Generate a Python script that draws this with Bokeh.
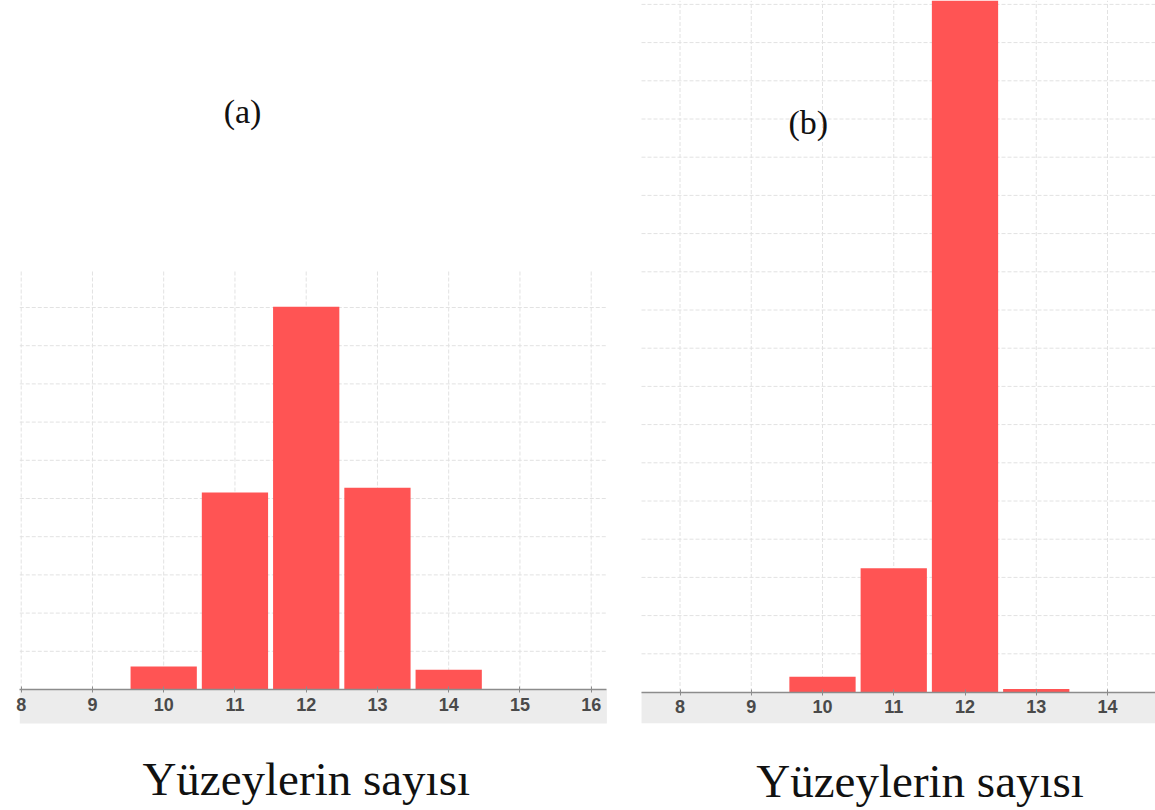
from bokeh.plotting import figure
from bokeh.models import LinearAxis, FixedTicker, Label, Range1d
from bokeh.layouts import row
from bokeh.embed import file_html
from bokeh.resources import INLINE

# ---------------- data ----------------
faces_a = [10, 11, 12, 13, 14]
freq_a = [0.030, 0.258, 0.501, 0.264, 0.026]
faces_b = [10, 11, 12, 13]
freq_b = [0.020, 0.162, 0.930, 0.004]
ticks_a = [8, 9, 10, 11, 12, 13, 14, 15, 16]
ticks_b = [8, 9, 10, 11, 12, 13, 14]
grid_step = 0.05
panel_labels = ["(a)", "(b)"]
x_title = "Yüzeylerin sayısı"

BAR = "#ff5454"
GRID = "#e2e2e2"
AXIS = "#8c8c8c"
BAND = "#ececec"

H = 810
PX_X = 71.25   # pixels per face
PX_Y = 764.0   # pixels per unit of frequency


def make_panel(width, x_left, zero_px, faces, freqs, ticks, bounds, grid_top, label, label_xy,
               title_xy, band_depth):
    xr = (x_left, x_left + width / PX_X)
    yr = (-(H - zero_px) / PX_Y, zero_px / PX_Y)
    p = figure(width=width, height=H, x_range=Range1d(*xr), y_range=Range1d(*yr),
               x_axis_type=None, y_axis_type=None, toolbar_location=None,
               output_backend="svg", outline_line_color=None,
               min_border=0, min_border_left=0, min_border_right=0,
               min_border_top=0, min_border_bottom=0)
    p.background_fill_color = "white"

    # grid lines (vertical at each tick, horizontal every grid_step)
    p.segment(x0=ticks, y0=[0] * len(ticks), x1=ticks, y1=[grid_top] * len(ticks),
              line_color=GRID, line_width=1, line_dash="4 2", level="underlay")
    n = int(grid_top / grid_step + 1e-9)
    hy = [grid_step * k for k in range(1, n + 1)]
    p.segment(x0=[bounds[0]] * len(hy), y0=hy, x1=[bounds[1]] * len(hy), y1=hy,
              line_color=GRID, line_width=1, line_dash="4 2", level="underlay")

    # gray band under the axis
    p.quad(left=[bounds[0]], right=[bounds[1]], bottom=[-band_depth], top=[0],
           fill_color=BAND, line_color=None)

    # bars
    p.vbar(x=faces, top=freqs, bottom=0, width=0.93, fill_color=BAR, line_color=None)

    ax = LinearAxis(fixed_location=0, ticker=FixedTicker(ticks=ticks), bounds=bounds)
    ax.axis_line_color = AXIS
    ax.axis_line_width = 1.5
    ax.major_tick_line_color = AXIS
    ax.major_tick_in = 3
    ax.major_tick_out = 3
    ax.minor_tick_line_color = None
    ax.major_label_text_font = "Liberation Sans"
    ax.major_label_text_font_size = "18px"
    ax.major_label_text_font_style = "bold"
    ax.major_label_text_color = "#4a4a4a"
    ax.major_label_standoff = 5
    p.add_layout(ax, "below")

    p.add_layout(Label(x=label_xy[0], y=label_xy[1], text=label,
                       text_font="Liberation Serif", text_font_size="34px",
                       text_color="#111111", text_align="center", text_baseline="middle"))
    p.add_layout(Label(x=title_xy[0], y=title_xy[1], text=x_title,
                       text_font="Liberation Serif", text_font_size="47px",
                       text_color="#111111", text_align="center", text_baseline="middle"))
    return p


# left panel: x=12 at 305.7px, zero line at 689px
pa = make_panel(620, 12 - 305.7 / PX_X, 689, faces_a, freq_a, ticks_a,
                (7.98, 16.22), 0.548, panel_labels[0], (11.106, 0.7565), (12.0, -0.1175), 0.0445)
# right panel: x=12 at 964.5px (344.5 inside the panel), zero line at 691.5px
pb = make_panel(535, 12 - 344.5 / PX_X, 691.5, faces_b, freq_b, ticks_b,
                (7.46, 14.7), 0.905, panel_labels[1], (9.80, 0.745), (11.37, -0.1165), 0.041)

layout = row(pa, pb)
open("out.html", "w").write(file_html(layout, INLINE))
